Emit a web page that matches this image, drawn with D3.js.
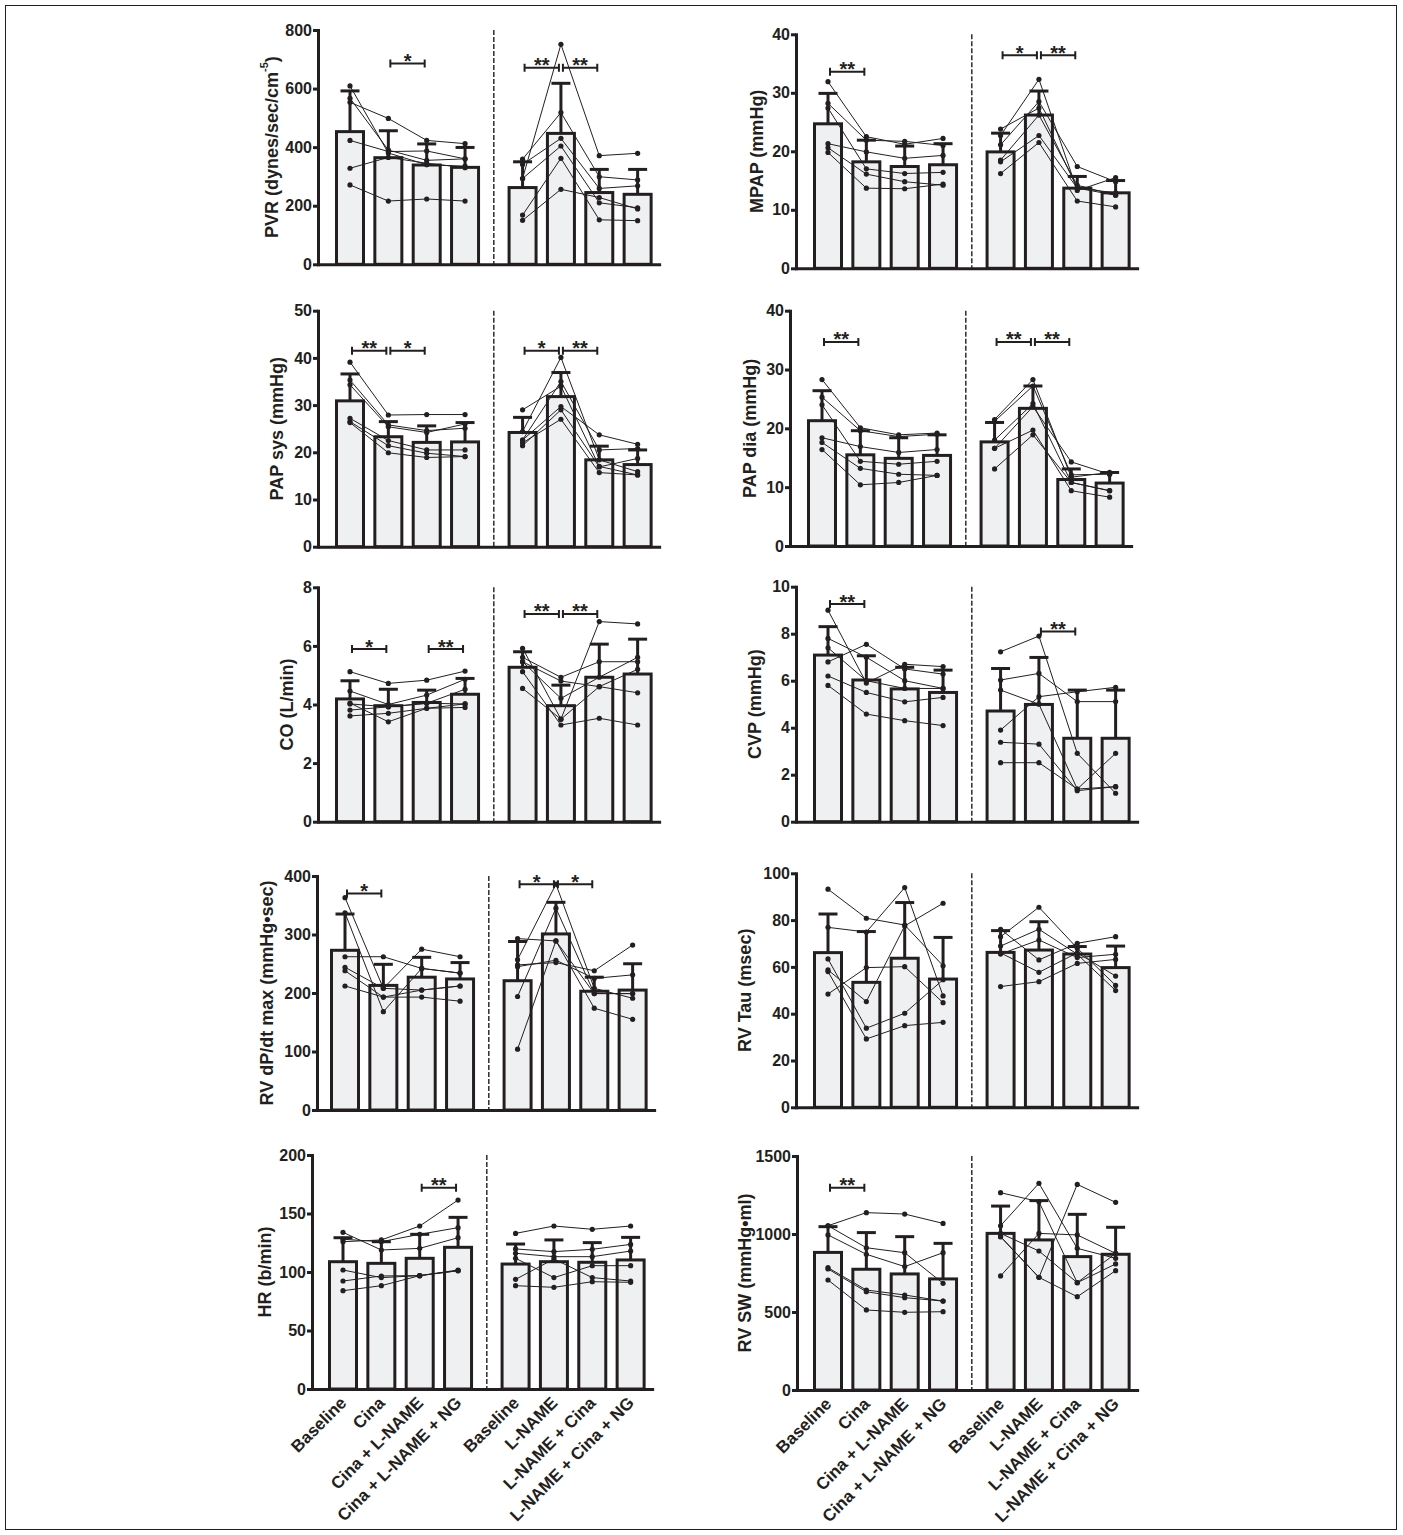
<!DOCTYPE html>
<html>
<head>
<meta charset="utf-8">
<script src="https://cdn.jsdelivr.net/npm/d3@7"></script>
<style>
  body { margin: 0; background: #fff; }
  svg text { font-family: "Liberation Sans", Arial, Helvetica, sans-serif; font-weight: bold; fill: #231f20; }
</style>
</head>
<body>
<svg id="fig" width="1403" height="1535"></svg>
<script>
// ---- condition labels ----
const groupLabels = ['Baseline', 'Cina', 'Cina + L-NAME', 'Cina + L-NAME + NG',
                     'Baseline', 'L-NAME', 'L-NAME + Cina', 'L-NAME + Cina + NG'];

// ---- PVR (dynes/sec/cm-5) ----
const pvrMean = [453, 364, 339, 331, 262, 447, 245, 239];
const pvrSD   = [139, 92, 72, 68, 88, 171, 79, 85];
const pvrCina  = [[553,498,423,412],[609,380,340,335],[567,390,355,360],[423,385,387,360],[328,365,345,330],[271,216,223,216]];
const pvrLname = [[293,751,371,379],[359,518,299,288],[341,430,259,268],[293,404,210,193],[168,362,152,149],[150,256,228,189]];
const pvrSig   = [[1,2,'*',686],[4,5,'**',671],[5,6,'**',671]];
const pvrTicks = [0, 200, 400, 600, 800];

// ---- MPAP (mmHg) ----
const mpapMean = [24.7, 18.2, 17.4, 17.7, 19.9, 26.2, 13.7, 12.9];
const mpapSD   = [5.2, 3.7, 3.5, 3.6, 3.2, 4.1, 2.0, 2.1];
const mpapCina  = [[31.9,22.5,21.2,22.2],[28.2,21.9,21.7,21.0],[27.4,17.0,16.2,16.4],[21.3,19.9,18.8,19.3],[20.6,16.1,14.8,14.2],[19.8,13.7,13.6,14.4]];
const mpapLname = [[23.8,27.4,13.7,12.5],[22.7,32.3,13.3,15.5],[21.1,28.5,17.4,14.8],[18.5,26.2,14.2,12.5],[18.2,22.7,13.7,12.9],[16.2,21.5,11.5,10.5]];
const mpapSig   = [[0,1,'**',33.6],[4,5,'*',36.4],[5,6,'**',36.4]];
const mpapTicks = [0, 10, 20, 30, 40];

// ---- PAP sys (mmHg) ----
const papSysMean = [30.9, 23.3, 22.1, 22.2, 24.2, 31.8, 18.4, 17.4];
const papSysSD   = [5.7, 3.2, 3.5, 4.1, 3.2, 5.1, 2.9, 3.1];
const papSysCina  = [[39.1,27.9,28.0,28.0],[35.3,25.8,24.6,25.1],[34.3,25.4,24.2,26.0],[27.2,22.5,20.5,20.5],[26.5,21.4,19.8,19.1],[26.3,19.9,18.9,19.1]];
const papSysLname = [[29.0,34.0,17.0,15.2],[24.4,40.1,18.4,15.9],[22.6,35.0,20.5,20.8],[22.6,29.7,23.7,21.7],[21.4,29.0,16.9,18.7],[22.0,27.0,15.7,15.2]];
const papSysSig   = [[0,1,'**',41.5],[1,2,'*',41.5],[4,5,'*',41.5],[5,6,'**',41.5]];
const papSysTicks = [0, 10, 20, 30, 40, 50];

// ---- PAP dia (mmHg) ----
const papDiaMean = [21.3, 15.5, 14.9, 15.4, 17.7, 23.4, 11.3, 10.7];
const papDiaSD   = [5.1, 4.1, 3.5, 3.5, 3.3, 3.8, 1.8, 1.8];
const papDiaCina  = [[28.3,20.1,18.9,19.2],[25.3,19.6,18.6,19.0],[24.0,14.4,13.9,14.4],[18.4,16.9,15.9,16.4],[17.6,13.2,12.2,12.0],[16.4,10.4,10.8,12.0]];
const papDiaLname = [[21.5,28.3,11.7,12.5],[21.2,27.2,12.1,12.2],[18.0,24.2,10.8,9.4],[16.6,23.7,14.3,12.2],[16.6,19.7,9.4,8.3],[13.1,18.9,10.8,9.4]];
const papDiaSig   = [[0,1,'**',34.7],[4,5,'**',34.7],[5,6,'**',34.7]];
const papDiaTicks = [0, 10, 20, 30, 40];

// ---- CO (L/min) ----
const coMean = [4.19, 3.96, 4.07, 4.35, 5.27, 3.96, 4.93, 5.04];
const coSD   = [0.62, 0.56, 0.42, 0.54, 0.53, 0.70, 1.13, 1.19];
const coCina  = [[5.12,4.72,4.83,5.14],[4.46,4.00,4.32,4.86],[4.02,3.92,4.04,4.52],[3.81,3.92,4.04,4.02],[3.61,3.70,3.87,4.02],[4.05,3.41,3.87,3.90]];
const coLname = [[5.92,3.50,6.83,6.75],[5.61,4.93,5.46,5.46],[5.46,4.21,4.93,5.61],[5.12,3.30,3.53,3.30],[4.55,3.50,4.61,5.20],[5.46,4.80,4.61,4.40]];
const coSig   = [[0,1,'*',5.89],[2,3,'**',5.89],[4,5,'**',7.09],[5,6,'**',7.09]];
const coTicks = [0, 2, 4, 6, 8];

// ---- CVP (mmHg) ----
const cvpMean = [7.09, 6.03, 5.65, 5.50, 4.71, 4.99, 3.55, 3.55];
const cvpSD   = [1.21, 1.03, 0.92, 0.95, 1.81, 2.00, 2.05, 2.05];
const cvpCina  = [[9.0,5.9,6.7,6.6],[7.8,7.0,6.0,5.67],[7.4,6.0,5.67,5.67],[6.8,7.55,6.5,6.28],[6.2,5.5,5.1,5.29],[5.8,4.58,4.30,4.09]];
const cvpLname = [[7.23,7.9,2.91,1.21],[6.03,6.31,5.11,5.11],[5.60,5.0,1.39,1.49],[3.90,5.32,5.53,5.72],[3.38,3.30,1.32,1.49],[2.51,2.51,1.39,2.91]];
const cvpSig   = [[0,1,'**',9.26],[5,6,'**',8.09]];
const cvpTicks = [0, 2, 4, 6, 8, 10];

// ---- RV dP/dt max (mmHg•sec) ----
const dpdtMean = [273, 213, 227, 224, 221, 301, 203, 205];
const dpdtSD   = [62, 36, 34, 28, 67, 54, 24, 45];
const dpdtCina  = [[363,208,275,262],[337,168,242,234],[262,262,242,234],[244,208,205,212],[238,193,205,212],[212,193,193,186]];
const dpdtLname = [[293,289,199,199],[257,386,208,191],[248,252,238,282],[245,256,225,231],[194,345,199,199],[104,289,174,155]];
const dpdtSig   = [[0,1,'*',370],[4,5,'*',386],[5,6,'*',386]];
const dpdtTicks = [0, 100, 200, 300, 400];

// ---- RV Tau (msec) ----
const tauMean = [66.1, 53.4, 63.7, 54.8, 66.2, 67.2, 65.5, 59.7];
const tauSD   = [16.5, 21.7, 23.8, 17.8, 9.3, 12.1, 3.2, 9.2];
const tauCina  = [[93.2,80.8,77.9,60.5],[76.9,74.9,93.9,47.6],[58.7,45.2,77.5,87.2],[63.4,33.8,40.2,54.5],[58.0,29.2,34.9,36.3],[48.4,59.7,60.1,44.7]];
const tauLname = [[76.1,63.0,70.1,72.9],[72.9,85.5,68.0,52.1],[68.9,76.1,65.4,49.9],[65.5,71.5,64.0,65.4],[66.0,57.7,66.0,56.1],[51.6,53.7,61.5,63.2]];
const tauSig   = [];
const tauTicks = [0, 20, 40, 60, 80, 100];

// ---- HR (b/min) ----
const hrMean = [108.8, 107.4, 111.7, 121.1, 106.8, 108.8, 108.3, 110.3];
const hrSD   = [20.5, 18.5, 20.5, 25.6, 17.1, 18.6, 16.8, 19.3];
const hrCina  = [[133.9,118.8,120.2,129.3],[125.9,127.4,139.3,161.5],[128.0,125.9,132.2,137.9],[101.7,95.2,96.9,101.7],[92.3,96.6,96.9,101.1],[84.0,88.3,96.9,101.1]];
const hrLname = [[133.0,139.3,136.5,139.3],[119.7,117.4,119.4,123.6],[116.0,113.1,113.1,117.9],[111.7,95.2,105.4,105.4],[93.7,111.1,95.2,92.3],[88.3,86.9,91.7,91.2]];
const hrSig   = [[2,3,'**',172]];
const hrTicks = [0, 50, 100, 150, 200];

// ---- RV SW (mmHg•ml) ----
const swMean = [882, 774, 744, 712, 1004, 962, 855, 870];
const swSD   = [165, 235, 239, 228, 175, 252, 271, 173];
const swCina  = [[1053,1137,1128,1068],[1053,912,880,684],[994,870,791,880],[784,641,609,570],[776,630,592,570],[705,513,498,502]];
const swLname = [[1265,1207,688,876],[1053,1325,908,844],[1004,891,688,808],[983,722,1318,1203],[731,1004,994,876],[983,722,598,765]];
const swSig   = [[0,1,'**',1297]];
const swTicks = [0, 500, 1000, 1500];

// ---- panel layout (pixel geometry of each plot) ----
const panels = [
  { title: ['PVR (dynes/sec/cm', '-5', ')'], mean: pvrMean, sd: pvrSD, g1: pvrCina, g2: pvrLname, sig: pvrSig, ticks: pvrTicks,
    ax: 318, top: 30, base: 264.3, c0: 350, titleDx: 46, xLabels: false },
  { title: ['MPAP (mmHg)'], mean: mpapMean, sd: mpapSD, g1: mpapCina, g2: mpapLname, sig: mpapSig, ticks: mpapTicks,
    ax: 796, top: 34.3, base: 268.3, c0: 828, titleDx: 39, xLabels: false },
  { title: ['PAP sys (mmHg)'], mean: papSysMean, sd: papSysSD, g1: papSysCina, g2: papSysLname, sig: papSysSig, ticks: papSysTicks,
    ax: 318, top: 310.7, base: 546.7, c0: 350, titleDx: 41, xLabels: false },
  { title: ['PAP dia (mmHg)'], mean: papDiaMean, sd: papDiaSD, g1: papDiaCina, g2: papDiaLname, sig: papDiaSig, ticks: papDiaTicks,
    ax: 790, top: 310.7, base: 546, c0: 822, titleDx: 40, xLabels: false },
  { title: ['CO (L/min)'], mean: coMean, sd: coSD, g1: coCina, g2: coLname, sig: coSig, ticks: coTicks,
    ax: 318, top: 587.3, base: 821.7, c0: 350, titleDx: 31, xLabels: false },
  { title: ['CVP (mmHg)'], mean: cvpMean, sd: cvpSD, g1: cvpCina, g2: cvpLname, sig: cvpSig, ticks: cvpTicks,
    ax: 796, top: 586.7, base: 821.7, c0: 828, titleDx: 41, xLabels: false },
  { title: ['RV dP/dt max (mmHg\u2022sec)'], mean: dpdtMean, sd: dpdtSD, g1: dpdtCina, g2: dpdtLname, sig: dpdtSig, ticks: dpdtTicks,
    ax: 317, top: 876, base: 1110, c0: 345, titleDx: 50, xLabels: false },
  { title: ['RV Tau (msec)'], mean: tauMean, sd: tauSD, g1: tauCina, g2: tauLname, sig: tauSig, ticks: tauTicks,
    ax: 796, top: 873.3, base: 1107.3, c0: 828, titleDx: 51, xLabels: false },
  { title: ['HR (b/min)'], mean: hrMean, sd: hrSD, g1: hrCina, g2: hrLname, sig: hrSig, ticks: hrTicks,
    ax: 312, top: 1155, base: 1389, c0: 343, titleDx: 47, xLabels: true },
  { title: ['RV SW (mmHg\u2022ml)'], mean: swMean, sd: swSD, g1: swCina, g2: swLname, sig: swSig, ticks: swTicks,
    ax: 797, top: 1156, base: 1390, c0: 828, titleDx: 52, xLabels: true }
];

const INK = '#231f20';
const BAR_FILL = '#eff0f2';
const STEP = 38.35;          // px between neighbouring bars
const BAR_W = 27;            // bar width (inside a 3px outline)
const slots = [0, 1, 2, 3, 4.5, 5.5, 6.5, 7.5];   // bar positions, gap between the two protocols

const svg = d3.select('#fig');

// frame around the figure
svg.append('rect')
  .attr('x', 5.5).attr('y', 5.5).attr('width', 1391).attr('height', 1524)
  .attr('fill', 'none').attr('stroke', INK).attr('stroke-width', 1);

function drawPanel(p) {
  const g = svg.append('g');
  const yMax = p.ticks[p.ticks.length - 1];
  const y = d3.scaleLinear().domain([0, yMax]).range([p.base, p.top]);

  // slot -> pixel, extended so the axis spans from the y axis to past the last bar
  const right = p.c0 + slots[7] * STEP + 23;
  const x = d3.scaleLinear()
    .domain([(p.ax - p.c0) / STEP, (right - p.c0) / STEP])
    .range([p.ax, right]);
  const xs = i => x(slots[i]);

  // bars (means)
  g.append('g').selectAll('rect').data(p.mean).join('rect')
    .attr('x', (d, i) => xs(i) - BAR_W / 2)
    .attr('y', d => y(d))
    .attr('width', BAR_W)
    .attr('height', d => y(0) - y(d))
    .attr('fill', BAR_FILL).attr('stroke', INK).attr('stroke-width', 3);

  // upper SD error bars
  const eb = g.append('g').attr('stroke', INK).attr('stroke-width', 3).attr('fill', 'none');
  p.mean.forEach((m, i) => {
    const cx = xs(i);
    eb.append('line').attr('x1', cx).attr('x2', cx).attr('y1', y(m)).attr('y2', y(m + p.sd[i]));
    eb.append('line').attr('x1', cx - 9.5).attr('x2', cx + 9.5).attr('y1', y(m + p.sd[i])).attr('y2', y(m + p.sd[i]));
  });

  // individual animals, connected across each protocol
  const lines = g.append('g').attr('fill', 'none').attr('stroke', INK).attr('stroke-width', 1);
  const dots = g.append('g').attr('fill', INK);
  [p.g1, p.g2].forEach((grp, gi) => {
    grp.forEach(series => {
      const line = d3.line().x((d, j) => xs(gi * 4 + j)).y(d => y(d));
      lines.append('path').attr('d', line(series));
      series.forEach((v, j) => {
        dots.append('circle').attr('cx', xs(gi * 4 + j)).attr('cy', y(v)).attr('r', 2.6);
      });
    });
  });

  // dashed divider between the two protocols
  g.append('line')
    .attr('x1', x(3.75)).attr('x2', x(3.75))
    .attr('y1', y(yMax)).attr('y2', y(0))
    .attr('stroke', INK).attr('stroke-width', 1.4).attr('stroke-dasharray', '5,2');

  // y axis
  const yAxis = g.append('g').attr('transform', `translate(${p.ax},0)`)
    .call(d3.axisLeft(y).tickValues(p.ticks).tickSize(5).tickSizeOuter(0).tickPadding(1)
      .tickFormat(d3.format('d')));
  yAxis.select('.domain').attr('stroke', INK).attr('stroke-width', 3).attr('stroke-linecap', 'square');
  yAxis.selectAll('.tick line').attr('stroke', INK).attr('stroke-width', 3);
  yAxis.selectAll('.tick text').attr('font-size', 16).attr('font-family', null).attr('fill', INK);

  // x axis
  const xAxis = g.append('g').attr('transform', `translate(0,${p.base})`)
    .call(d3.axisBottom(x).tickValues(p.xLabels ? slots : []).tickSize(0).tickSizeOuter(0)
      .tickFormat((d, i) => groupLabels[i]));
  xAxis.select('.domain').attr('stroke', INK).attr('stroke-width', 3);
  if (p.xLabels) {
    xAxis.selectAll('.tick text')
      .attr('font-size', 17).attr('font-family', null).attr('fill', INK)
      .attr('text-anchor', 'end')
      .attr('x', 0).attr('y', 0).attr('dy', 0)
      .attr('transform', 'translate(4,15) rotate(-45)');
  }

  // y axis title
  const tx = p.ax - p.titleDx, ty = (p.top + p.base) / 2;
  const t = g.append('text')
    .attr('transform', `translate(${tx},${ty}) rotate(-90)`)
    .attr('text-anchor', 'middle').attr('dy', '0.35em').attr('font-size', 18);
  t.append('tspan').text(p.title[0]);
  if (p.title.length > 1) {
    t.append('tspan').attr('font-size', 11).attr('dy', '-0.9em').text(p.title[1]);
    t.append('tspan').attr('dy', '0.56em').text(p.title[2]);
  }

  // significance brackets
  const br = g.append('g');
  p.sig.forEach(([a, b, label, v]) => {
    const x1 = xs(a) + 2, x2 = xs(b) - 2, yy = y(v);
    br.append('path')
      .attr('d', `M${x1},${yy - 4}V${yy + 4}M${x1},${yy}H${x2}M${x2},${yy - 4}V${yy + 4}`)
      .attr('fill', 'none').attr('stroke', INK).attr('stroke-width', 2);
    br.append('text')
      .attr('x', (x1 + x2) / 2).attr('y', yy + 4.5)
      .attr('text-anchor', 'middle').attr('font-size', 20)
      .text(label);
  });
}

panels.forEach(drawPanel);
</script>
</body>
</html>
